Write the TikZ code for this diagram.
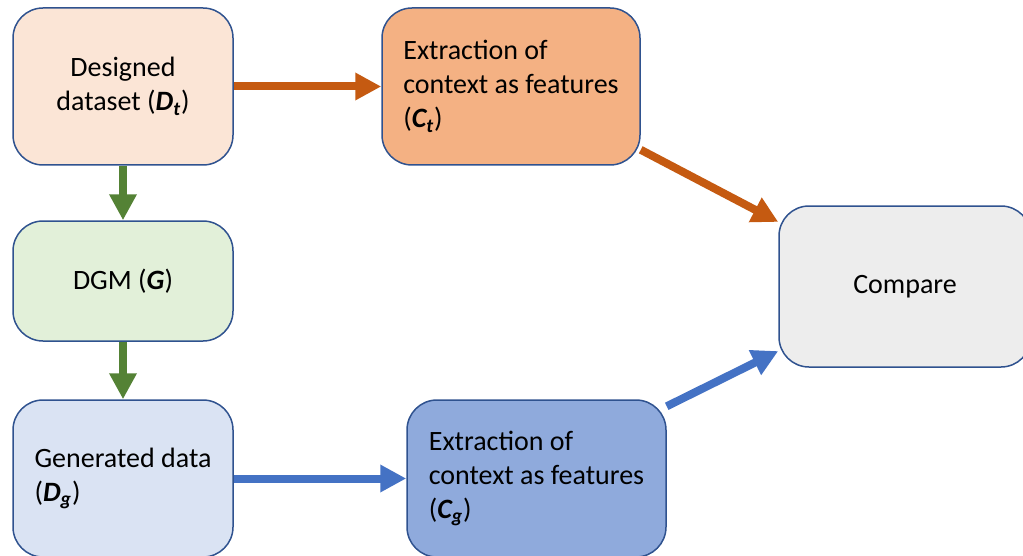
\documentclass[tikz,border=0pt]{standalone}
\usepackage{fontspec}
\setmainfont{Carlito}
\usetikzlibrary{arrows.meta,positioning}

\definecolor{boxline}{HTML}{2F528F}
\definecolor{peach}{HTML}{FBE5D6}
\definecolor{apricot}{HTML}{F4B183}
\definecolor{mint}{HTML}{E2F0D9}
\definecolor{sky}{HTML}{DAE3F3}
\definecolor{steel}{HTML}{8FAADC}
\definecolor{mist}{HTML}{EDEDED}
\definecolor{rust}{HTML}{C55A11}
\definecolor{leaf}{HTML}{548235}
\definecolor{cobalt}{HTML}{4472C4}

\newcommand{\symb}[2]{\textbf{\textit{#1\textsubscript{#2}}}}

\begin{document}
\begin{tikzpicture}[x=0.5pt,y=-0.5pt,
    block/.style={draw=boxline,line width=0.75pt,rounded corners=15pt,
        minimum height=78.5pt,minimum width=110pt,inner sep=0pt,
        font=\fontsize{14}{17}\selectfont},
    flow/.style={line width=4pt,-{Triangle[length=13pt,width=13pt]}}]
    \useasboundingbox (0,0) rectangle (1023,556);
    \node[block,fill=peach,align=center] (dt) at (123,86.5)
        {Designed\\dataset (\symb{D}{t})};
    \node[block,fill=apricot,minimum width=129pt,align=left] (ct) at (511,86.5)
        {Extraction of\\context as features\\(\symb{C}{t})};
    \node[block,fill=mint,align=center,minimum height=60pt] (dgm) at (123,281)
        {DGM (\textbf{\textit{G}})};
    \node[block,fill=sky,align=left] (dg) at (123,478.5)
        {Generated data\hspace{6pt}\\(\symb{D}{g})};
    \node[block,fill=steel,minimum width=129.5pt,align=left] (cg) at (536.5,478.5)
        {Extraction of\\context as features\\(\symb{C}{g})};
    \node[block,fill=mist,minimum width=126pt,minimum height=80.5pt] (cmp) at (905,286.5)
        {Compare};
    \draw[flow,rust] (dt) -- (ct);
    \draw[flow,leaf] (dt) -- (dgm);
    \draw[flow,leaf] (dgm) -- (dg);
    \draw[flow,cobalt] (dg) -- (cg);
    \draw[flow,rust] (ct.-26) -- (cmp.153);
    \draw[flow,cobalt] (cg.29) -- (cmp.207);
\end{tikzpicture}
\end{document}
